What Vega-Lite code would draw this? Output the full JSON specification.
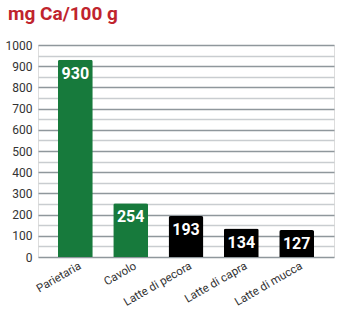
{
  "$schema": "https://vega.github.io/schema/vega-lite/v6.json",
  "width": 296,
  "height": 212,
  "autosize": "none",
  "padding": {"left": 38, "top": 45, "right": 7, "bottom": 61},
  "background": "white",
  "title": {
    "text": "mg Ca/100 g",
    "anchor": "start",
    "frame": "group",
    "dx": -30,
    "offset": 15,
    "font": "Roboto",
    "fontSize": 19,
    "fontWeight": "bold",
    "color": "#c0242d"
  },
  "data": {
    "values": [
      {"food": "Parietaria", "ca": 930, "group": "plant"},
      {"food": "Cavolo", "ca": 254, "group": "plant"},
      {"food": "Latte di pecora", "ca": 193, "group": "milk"},
      {"food": "Latte di capra", "ca": 134, "group": "milk"},
      {"food": "Latte di mucca", "ca": 127, "group": "milk"}
    ]
  },
  "encoding": {
    "x": {
      "field": "food",
      "type": "nominal",
      "sort": null,
      "scale": {"paddingInner": 0.37, "paddingOuter": 0.36},
      "axis": {
        "title": null,
        "labelAngle": -30,
        "labelAlign": "right",
        "labelBaseline": "middle",
        "labelFont": "Roboto",
        "labelFontSize": 11.5,
        "labelColor": "#333333",
        "labelPadding": 8,
        "labelOffset": 5,
        "ticks": false,
        "domain": false
      }
    },
    "y": {
      "field": "ca",
      "type": "quantitative",
      "scale": {"domain": [0, 1000], "nice": false},
      "axis": {
        "title": null,
        "format": "d",
        "values": [0, 50, 100, 150, 200, 250, 300, 350, 400, 450, 500, 550, 600, 650, 700, 750, 800, 850, 900, 950, 1000],
        "labelExpr": "datum.value % 100 === 0 ? datum.label : ''",
        "labelFont": "Roboto",
        "labelFontSize": 12,
        "labelColor": "#333333",
        "labelPadding": 6,
        "ticks": false,
        "domain": false,
        "gridColor": {"condition": {"test": "datum.value % 100 === 0", "value": "#8f979c"}, "value": "#c9cdd0"},
        "gridWidth": 1.3,
        "gridOpacity": 1
      }
    }
  },
  "layer": [
    {
      "mark": {"type": "bar", "cornerRadiusTopLeft": 2, "cornerRadiusTopRight": 2},
      "encoding": {
        "color": {
          "field": "group",
          "type": "nominal",
          "scale": {"domain": ["plant", "milk"], "range": ["#177a3c", "#000000"]},
          "legend": null
        }
      }
    },
    {
      "mark": {"type": "text", "baseline": "top", "dy": 6, "font": "Roboto", "fontSize": 16, "fontWeight": "bold", "color": "white"},
      "encoding": {"text": {"field": "ca", "type": "quantitative", "format": "d"}}
    }
  ]
}
